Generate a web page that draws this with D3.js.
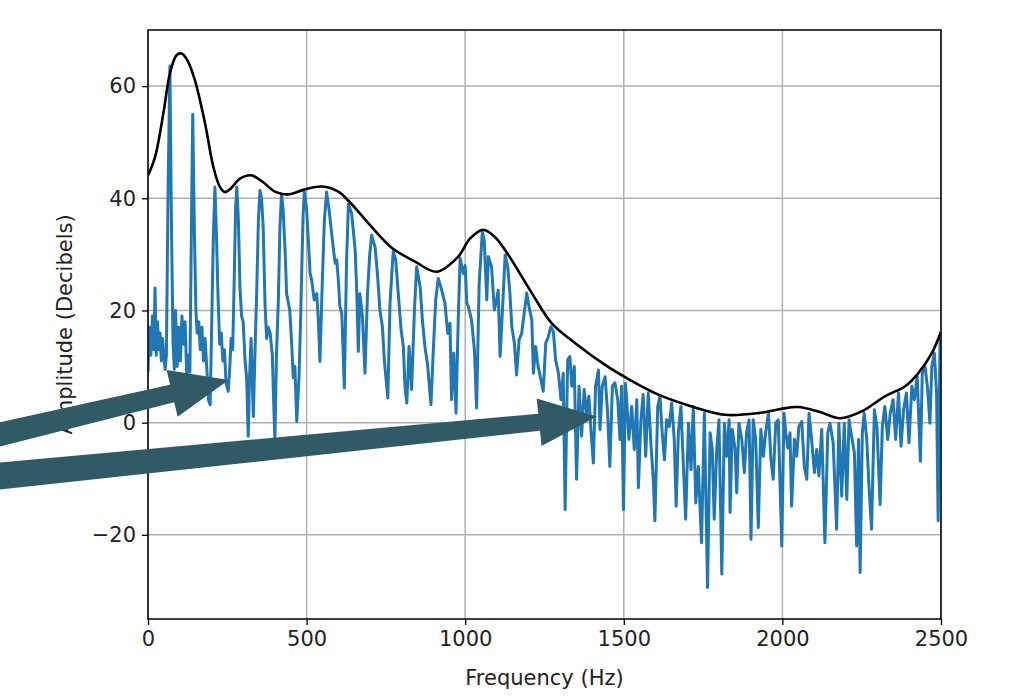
<!DOCTYPE html>
<html>
<head>
  <meta charset="utf-8">
  <title>Spectrum</title>
  <script src="https://cdnjs.cloudflare.com/ajax/libs/d3/7.8.5/d3.min.js"></script>
  <style>
    body { margin: 0; background: #fff; }
    text { font-family: "DejaVu Sans", sans-serif; fill: #222; }
  </style>
</head>
<body>
<div id="vis"></div>
<script>
// ticks
var xTicks = [0, 500, 1000, 1500, 2000, 2500];
var yTicks = [-20, 0, 20, 40, 60];

// spectrum: [Hz, dB]
var spectrum = [
  [0,9],[4,17],[9,12],[14,19],[19,13],[22,24],[26,12],[30,18],[34,13],[38,16],[42,11],[46,15],[50,12],[54,9.5],[58,12],[63,40],[69,63.6],[74,35],[79,14],[83,9.5],
  [87,20],[92,10],[97,17],[102,11],[107,19],[112,14],[117,18],[122,8.5],[127,12],[132,9],[137,35],[141,55],[146,35],[151,20],[155,16],[160,18],[165,13],[170,17],[175,11],[180,15],
  [186,9],[191,4],[196,3.2],[201,18],[206,33],[211,42],[216,33],[221,22],[226,14],[231,16],[236,11],[241,13],[246,7],[253,5.6],[258,10],[262,15],[267,13],[272,26],[276,38],[280,42],
  [285,36],[290,24],[295,19],[300,18],[306,11],[311,8],[316,-2.4],[320,8],[325,15],[332,1.1],[337,12],[343,24],[348,36],[353,41.4],[358,40],[363,35],[369,21],[374,15],[379,17],[385,16],
  [392,12],[396,4],[400,-3],[405,12],[411,22],[416,35],[421,40.8],[426,38],[432,31],[437,23],[442,21.5],[447,20],[453,14],[458,8],[463,10],[469,0.2],[476,8],[481,18],[485,28],[489,37],
  [493,41.1],[500,38],[505,33],[511,26.6],[516,25.4],[524,21.9],[532,23],[537,18.3],[542,10.9],[550,26],[556,36],[563,41.1],[571,37.9],[579,33.7],[590,28.4],[595,29],[600,25.4],[605,20.7],[611,19.5],[619,6.2],
  [626,29],[632,39],[642,37.3],[653,30.8],[658,23.6],[663,12.7],[668,23],[676,18.9],[684,8.8],[692,23],[699,30],[705,33.4],[716,31.3],[724,26],[731,20.1],[739,17.1],[745,11.2],[756,4.4],[763,21.3],[773,30.5],
  [781,29],[789,23],[798,16.5],[805,13.6],[810,6.5],[816,3.5],[823,13.6],[831,5.9],[840,20.1],[847,27.8],[858,24.2],[865,18.3],[873,13.6],[882,10],[892,3.2],[900,13.6],[907,21.9],[915,25.7],[926,23.6],[936,21.3],
  [945,15.9],[952,17.7],[957,4.1],[964,12.4],[971,1.7],[978,18.3],[984,29.3],[994,26.6],[1000,28],[1005,21.3],[1010,20.7],[1020,18.3],[1029,13],[1036,2.6],[1044,24.8],[1054,34],[1060,32.5],[1068,21.9],[1073,29.6],[1083,27.8],
  [1092,20.1],[1099,21.9],[1104,23.6],[1110,11.8],[1117,19.5],[1126,29.9],[1134,27.8],[1141,23],[1147,17.1],[1155,14.2],[1162,8.5],[1170,14.8],[1178,15.9],[1186,19.5],[1194,23.1],[1201,20.7],[1210,18.3],[1215,8.8],[1222,13.6],[1230,10],
  [1239,7.6],[1246,5.6],[1254,14.2],[1262,15.3],[1270,17.1],[1278,16.2],[1285,11.2],[1294,8.8],[1302,4.1],[1309,8.8],[1315,-15.5],[1323,11.2],[1330,11.8],[1336,6.5],[1344,10],[1351,-10.1],[1359,6.5],[1367,-2.4],[1375,5.9],[1383,1.7],
  [1390,4.7],[1397,-1.8],[1404,-7.2],[1411,6.5],[1420,9.4],[1425,-1.2],[1432,6.5],[1441,8.2],[1449,1.7],[1456,-7.8],[1464,6.5],[1472,7.1],[1481,4.1],[1488,-3],[1493,6.5],[1499,-15.5],[1505,7],[1509,4.1],[1516,-3],[1525,2.9],
  [1533,-4.8],[1541,4.1],[1546,-11.6],[1554,0.5],[1561,5],[1569,-6],[1577,5.3],[1586,-4.2],[1593,-10.1],[1598,-17.5],[1607,2.9],[1614,4.7],[1621,-1.8],[1628,-6.6],[1635,0.5],[1643,-0.7],[1651,3.5],[1659,-3],[1665,-14.9],[1672,-1.8],
  [1680,2.9],[1688,-7.8],[1695,-17.2],[1704,-0.1],[1712,-8.4],[1719,2.9],[1727,-14.3],[1735,-7.8],[1745,-21.4],[1754,1.7],[1764,-29.4],[1772,-1.8],[1779,-4.8],[1785,-17.2],[1793,-4.8],[1800,0.5],[1809,-27],[1817,-0.1],[1824,-6],[1832,0.5],
  [1835,-16],[1842,-1.2],[1851,-4.8],[1856,-12.5],[1863,-0.1],[1872,-3],[1880,-8.9],[1887,-1.8],[1895,0.5],[1901,-20.8],[1908,0.5],[1916,-3],[1924,-18.7],[1932,-1.2],[1940,-6],[1947,-1.8],[1956,1.7],[1964,-6.6],[1971,-10.1],[1979,-0.1],
  [1987,0.5],[1998,-22],[2005,1.7],[2011,-2],[2017,-4.5],[2024,-1.8],[2029,-14.9],[2038,-3],[2045,-6],[2052,-0.7],[2061,0.2],[2069,-7.8],[2077,-10.1],[2084,1.7],[2092,-3],[2101,-8.9],[2108,-4.8],[2115,-9.5],[2124,-1.2],[2134,-21.4],
  [2143,-1.8],[2150,-0.1],[2160,-3.6],[2171,-19],[2178,-0.1],[2187,-13.1],[2195,-0.1],[2203,-13.7],[2210,0.5],[2218,-2.4],[2227,-5.4],[2234,-22],[2240,-3],[2245,-26.7],[2252,-1.8],[2258,1.7],[2266,-3],[2273,-11.3],[2281,-19],[2290,2.3],
  [2298,-0.7],[2308,-14.6],[2315,-0.7],[2323,2.9],[2332,-3],[2340,1.7],[2349,4.1],[2357,-3],[2366,5.3],[2374,-4.2],[2382,2.3],[2391,5.3],[2399,-3.6],[2408,6.5],[2416,4.1],[2425,8.2],[2435,-6.9],[2441,8.8],[2450,10],[2458,5.9],
  [2465,-0.1],[2471,10],[2479,12.4],[2486,5.3],[2491,-17.5],[2497,14.8],[2500,13]
];

// smooth envelope: [Hz, dB]
var envelope = [
  [0,44.1],[22,47.3],[48,55],[69,62.2],[90,65.5],[106,65.8],[125,64.5],[148,61],[180,53.3],[206,45.6],
  [227,42],[243,41.1],[262,41.8],[290,43.5],[325,44.1],[360,43],[400,41.2],[442,40.7],[490,41.5],[548,42.1],
  [600,41.2],[631,39.6],[665,37.5],[705,34.9],[768,31.2],[842,28.7],[910,26.9],[978,29.6],[1015,32.8],[1057,34.4],
  [1095,33],[1136,29.9],[1210,23.1],[1273,17.7],[1346,14.2],[1441,10.3],[1520,7.6],[1609,5.0],[1714,2.9],[1819,1.4],
  [1924,1.7],[1990,2.4],[2050,2.8],[2113,2.0],[2182,0.8],[2250,2.0],[2323,4.7],[2387,6.5],[2428,8.8],[2471,12.4],[2500,16.2]
];

// annotation arrows, tail and tip in data units
var arrows = [
  {from: [-470, -2.3], to: [254, 7.6], tailW: 24, neckW: 18},
  {from: [-470, -9.6], to: [1415, 1.1], tailW: 27, neckW: 17}
];

var W = 1015, H = 697;
var m = {left: 148, right: 74, top: 30, bottom: 78};

var svg = d3.select("#vis").append("svg")
  .attr("width", W).attr("height", H);

var x = d3.scaleLinear().domain([0, 2500]).range([m.left, W - m.right]);
var y = d3.scaleLinear().domain([-35, 70]).range([H - m.bottom, m.top]);

// grid
svg.append("g").selectAll("line").data(xTicks).enter().append("line")
  .attr("x1", d => x(d)).attr("x2", d => x(d))
  .attr("y1", y.range()[0]).attr("y2", y.range()[1])
  .attr("stroke", "#b0b0b0").attr("stroke-width", 1.5);
svg.append("g").selectAll("line").data(yTicks).enter().append("line")
  .attr("y1", d => y(d)).attr("y2", d => y(d))
  .attr("x1", x.range()[0]).attr("x2", x.range()[1])
  .attr("stroke", "#b0b0b0").attr("stroke-width", 1.5);

svg.append("clipPath").attr("id", "clip").append("rect")
  .attr("x", m.left).attr("y", m.top)
  .attr("width", W - m.left - m.right).attr("height", H - m.top - m.bottom);

var line = d3.line().x(d => x(d[0])).y(d => y(d[1]));

svg.append("path").datum(spectrum)
  .attr("clip-path", "url(#clip)")
  .attr("d", line)
  .attr("fill", "none").attr("stroke", "#1f77b4")
  .attr("stroke-width", 3).attr("stroke-linejoin", "round");

svg.append("path").datum(envelope)
  .attr("clip-path", "url(#clip)")
  .attr("d", line.curve(d3.curveCatmullRom.alpha(0.5)))
  .attr("fill", "none").attr("stroke", "#000")
  .attr("stroke-width", 2.6);

// axes
var fmt = d3.format("d");
var xAxis = svg.append("g")
  .attr("transform", "translate(0," + (H - m.bottom) + ")")
  .call(d3.axisBottom(x).tickValues(xTicks).tickFormat(fmt).tickSize(6).tickPadding(6));
var yAxis = svg.append("g")
  .attr("transform", "translate(" + m.left + ",0)")
  .call(d3.axisLeft(y).tickValues(yTicks).tickFormat(fmt).tickSize(6).tickPadding(6));
[xAxis, yAxis].forEach(function(g) {
  g.select(".domain").remove();
  g.selectAll(".tick line").attr("stroke", "#000").attr("stroke-width", 1.3);
  g.selectAll(".tick text").attr("font-size", 21).attr("fill", "#222")
    .attr("font-family", "DejaVu Sans");
});

svg.append("rect")
  .attr("x", m.left).attr("y", m.top)
  .attr("width", W - m.left - m.right).attr("height", H - m.top - m.bottom)
  .attr("fill", "none").attr("stroke", "#000").attr("stroke-width", 1.5);

svg.append("text")
  .attr("x", (x.range()[0] + x.range()[1]) / 2).attr("y", 685)
  .attr("text-anchor", "middle").attr("font-size", 21)
  .text("Frequency (Hz)");

svg.append("text")
  .attr("transform", "translate(72," + (y.range()[0] + y.range()[1]) / 2 + ") rotate(-90)")
  .attr("text-anchor", "middle").attr("font-size", 21)
  .text("Amplitude (Decibels)");

// arrows
var headW = 48, headL = 58;
svg.append("g").selectAll("path").data(arrows).enter().append("path")
  .attr("fill", "#2f5a66")
  .attr("d", function(a) {
    var x0 = x(a.from[0]) - 4, y0 = y(a.from[1]);
    var x1 = x(a.to[0]), y1 = y(a.to[1]);
    var dx = x1 - x0, dy = y1 - y0, len = Math.sqrt(dx * dx + dy * dy);
    var ux = dx / len, uy = dy / len, nx = -uy, ny = ux;
    var bx = x1 - ux * headL, by = y1 - uy * headL;
    var p = [
      [x0 + nx * a.tailW / 2, y0 + ny * a.tailW / 2],
      [bx + nx * a.neckW / 2, by + ny * a.neckW / 2],
      [bx + nx * headW / 2, by + ny * headW / 2],
      [x1, y1],
      [bx - nx * headW / 2, by - ny * headW / 2],
      [bx - nx * a.neckW / 2, by - ny * a.neckW / 2],
      [x0 - nx * a.tailW / 2, y0 - ny * a.tailW / 2]
    ];
    return "M" + p.map(q => q[0].toFixed(1) + "," + q[1].toFixed(1)).join("L") + "Z";
  });
</script>
</body>
</html>
